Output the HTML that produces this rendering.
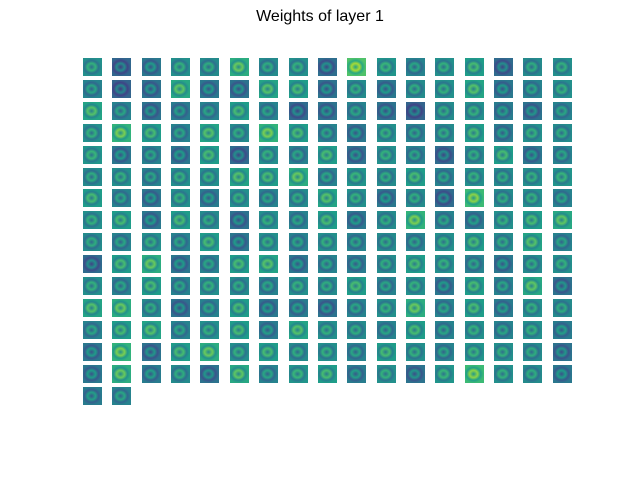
<!DOCTYPE html>
<html><head><meta charset="utf-8">
<style>
html,body{margin:0;padding:0;background:#fff;}
#chart{position:relative;width:640px;height:480px;overflow:hidden;font-family:"Liberation Sans","DejaVu Sans",sans-serif;}
#title{position:absolute;top:8px;left:0;width:640px;text-align:center;font-size:16px;color:#000;}
.tile{position:absolute;width:19px;height:18px;}
</style></head>
<body>
<div id="chart">
<div id="title">Weights of layer 1</div>
</div>
<script>
// per-tile mean weight level (0..1 on viridis), row-major, 17 columns
const tileMeans = [
0.50,0.33,0.40,0.50,0.48,0.62,0.48,0.50,0.36,0.72,0.52,0.45,0.50,0.55,0.35,0.48,0.50,
0.45,0.32,0.38,0.60,0.40,0.38,0.58,0.55,0.38,0.48,0.40,0.48,0.50,0.58,0.40,0.45,0.50,
0.58,0.45,0.38,0.42,0.45,0.55,0.45,0.35,0.38,0.45,0.38,0.32,0.48,0.50,0.42,0.38,0.45,
0.50,0.65,0.55,0.45,0.58,0.48,0.65,0.55,0.45,0.40,0.50,0.45,0.48,0.55,0.42,0.50,0.48,
0.52,0.40,0.45,0.40,0.55,0.35,0.50,0.45,0.55,0.38,0.50,0.45,0.35,0.48,0.55,0.40,0.45,
0.48,0.50,0.45,0.50,0.50,0.58,0.55,0.62,0.45,0.52,0.48,0.55,0.45,0.50,0.48,0.50,0.52,
0.55,0.45,0.40,0.50,0.42,0.50,0.45,0.48,0.58,0.50,0.40,0.48,0.35,0.68,0.48,0.50,0.45,
0.50,0.55,0.40,0.55,0.48,0.38,0.50,0.45,0.55,0.40,0.48,0.65,0.45,0.42,0.50,0.55,0.60,
0.48,0.45,0.50,0.45,0.55,0.40,0.50,0.45,0.50,0.45,0.48,0.45,0.50,0.55,0.48,0.58,0.45,
0.35,0.55,0.62,0.40,0.45,0.55,0.58,0.40,0.45,0.42,0.48,0.55,0.50,0.45,0.40,0.48,0.50,
0.50,0.45,0.55,0.45,0.50,0.48,0.45,0.50,0.48,0.55,0.45,0.50,0.40,0.55,0.45,0.60,0.38,
0.58,0.62,0.48,0.38,0.45,0.55,0.40,0.42,0.38,0.45,0.50,0.62,0.45,0.55,0.42,0.50,0.48,
0.45,0.55,0.58,0.45,0.50,0.55,0.42,0.58,0.50,0.48,0.45,0.55,0.45,0.50,0.45,0.50,0.42,
0.40,0.65,0.38,0.55,0.62,0.50,0.55,0.48,0.50,0.45,0.55,0.50,0.45,0.52,0.50,0.48,0.38,
0.40,0.62,0.42,0.48,0.38,0.60,0.45,0.52,0.55,0.42,0.50,0.38,0.52,0.68,0.50,0.48,0.40,
0.42,0.45
];
const nCols = 17;
const viridis = [[68,1,84],[72,40,120],[62,73,137],[49,104,142],[38,130,142],[31,158,137],[53,183,121],[109,205,89],[180,222,44],[253,231,37]];
function vc(t){t=Math.max(0,Math.min(1,t));const p=t*9,i=Math.min(8,Math.floor(p)),f=p-i;
 const a=viridis[i],b=viridis[i+1];return 'rgb('+a.map((v,k)=>Math.round(v+(b[k]-v)*f)).join(',')+')';}
function xPos(c){return 83+c*29.35;}
function yPos(r){return 58+r*21.9;}
const chart=document.getElementById('chart');
tileMeans.forEach((m,i)=>{
 const el=document.createElement('div');
 el.className='tile';
 
 
 const c=i%nCols,r=Math.floor(i/nCols);
 el.style.left=xPos(c).toFixed(1)+'px';
 el.style.top=yPos(r).toFixed(1)+'px';
 el.style.background='radial-gradient(ellipse 9px 8px at 45% 50%, '+vc(m-0.15)+' 0px, '+vc(m+0.15)+' 4px, '+vc(m-0.12)+' 7px, '+vc(m)+' 10px)';
 chart.appendChild(el);
});
</script>
</body></html>
